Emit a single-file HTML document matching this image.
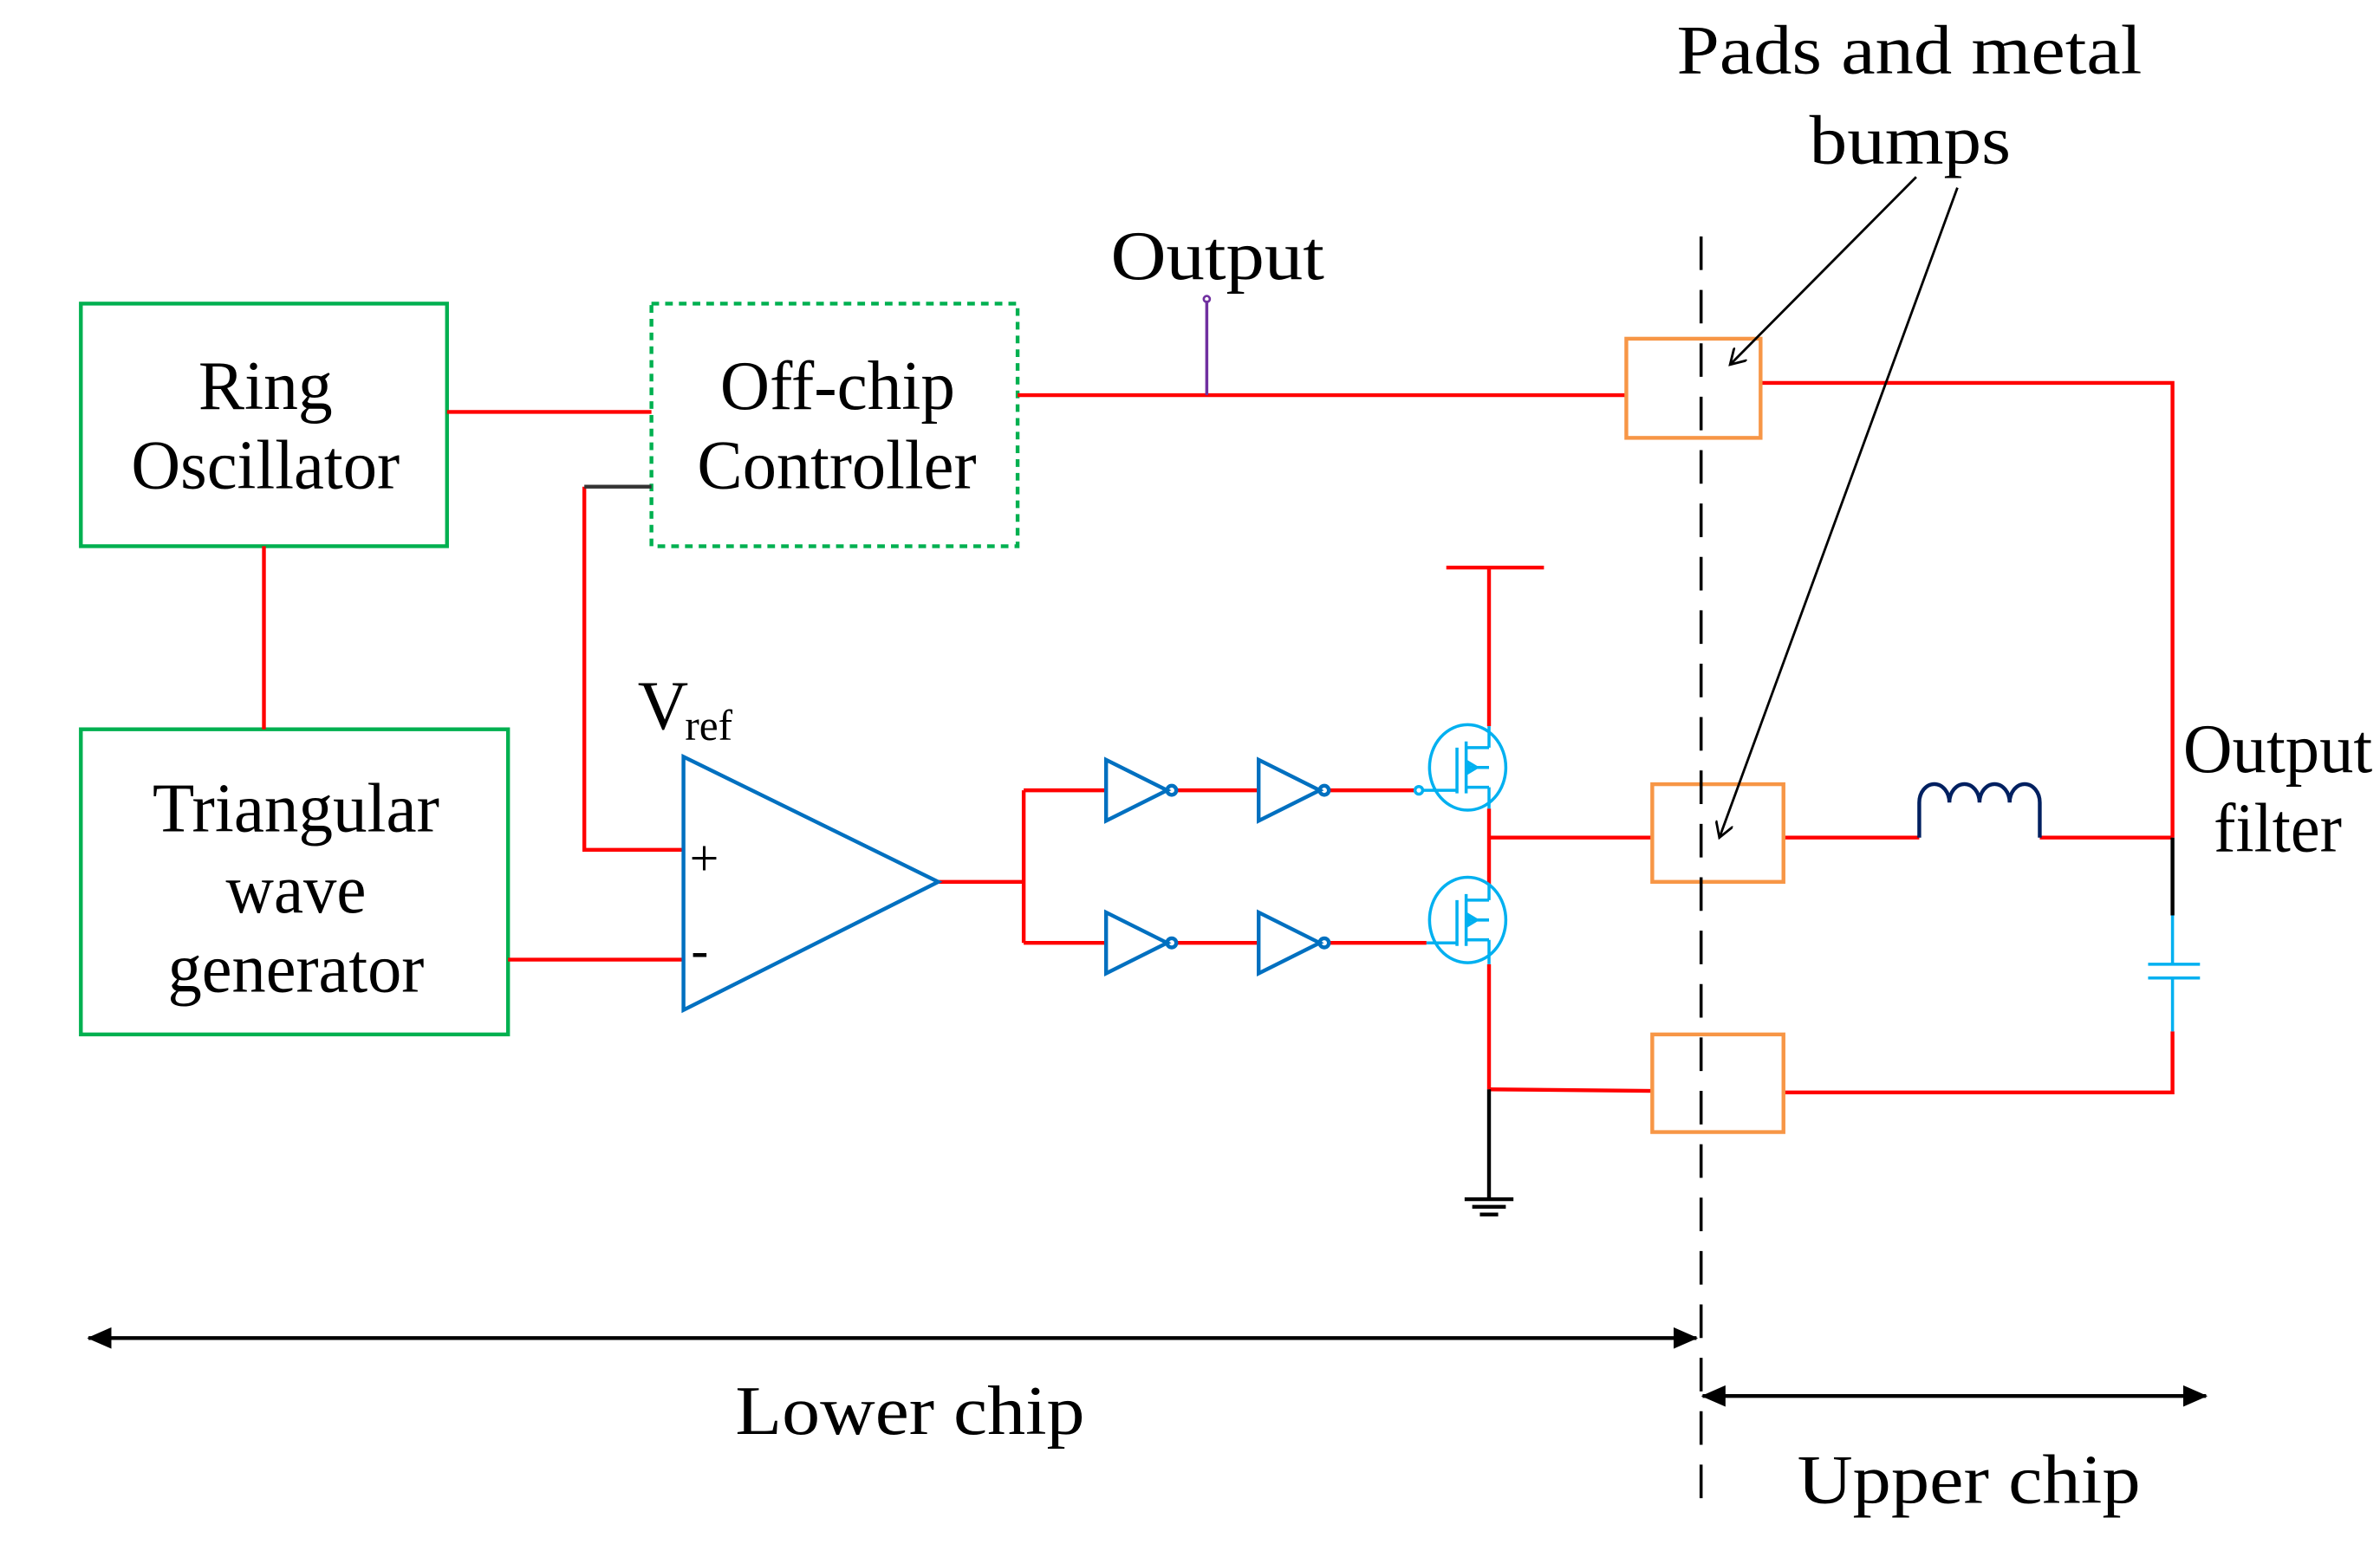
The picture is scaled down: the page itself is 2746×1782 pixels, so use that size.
<!DOCTYPE html>
<html><head><meta charset="utf-8"><style>html,body{margin:0;padding:0;background:#fff}svg{display:block}</style></head>
<body>
<svg width="2746" height="1782" viewBox="0 0 1560 1012" preserveAspectRatio="none" xmlns="http://www.w3.org/2000/svg" font-family="Liberation Serif, serif" font-size="46" fill="#000">
<defs>
<marker id="ah" markerWidth="12" markerHeight="12" refX="10" refY="6" orient="auto" markerUnits="userSpaceOnUse"><path d="M0,0 L10,6 L0,12" fill="none" stroke="#000" stroke-width="1.6"/></marker>
<marker id="ah2" markerWidth="16" markerHeight="14" refX="15" refY="7" orient="auto-start-reverse" markerUnits="userSpaceOnUse"><path d="M0,0 L16,7 L0,14 Z" fill="#000"/></marker>
</defs>
<g fill="none" stroke-width="2.5">
<rect x="53" y="199" width="240" height="159" stroke="#00b050"/>
<rect x="427" y="199" width="240" height="159" stroke="#00b050" stroke-dasharray="5,4"/>
<rect x="53" y="478" width="280" height="200" stroke="#00b050"/>
<g stroke="#ff0000">
<path d="M293 270H427"/><path d="M383 319V557H448"/><path d="M173 358V478"/><path d="M333 629H448"/>
<path d="M615 578H671M671 518V618M671 518H725M671 618H725"/>
<path d="M771 518H825M871 518H928M771 618H825M871 618H935"/>
<path d="M667 259H1066"/>
<path d="M976 372V476M976 530V580M976 632V714"/><path d="M948 372H1012"/>
<path d="M976 549H1083M976 714L1083 715"/>
<path d="M1154 251H1424V549"/><path d="M1169 549H1258M1337 549H1424"/>
<path d="M1424 676V716H1169"/>
</g>
<path d="M383 319H427" stroke="#333"/>
<path d="M976 714V786" stroke="#000"/>
<path d="M960 786H992M965 791H987M970 796H982" stroke="#000"/>
<path d="M448 496L448 662L615 578Z" stroke="#0070c0"/>
<g stroke="#0070c0">
<path d="M725 498V538L765 518Z"/><circle cx="768" cy="518" r="3"/>
<path d="M825 498V538L865 518Z"/><circle cx="868" cy="518" r="3"/>
<path d="M725 598V638L765 618Z"/><circle cx="768" cy="618" r="3"/>
<path d="M825 598V638L865 618Z"/><circle cx="868" cy="618" r="3"/>
</g>
<g stroke="#00b0f0" stroke-width="2">
<ellipse cx="962" cy="503" rx="25" ry="28"/><ellipse cx="962" cy="603" rx="25" ry="28"/>
<circle cx="930" cy="518" r="2.5"/>
<path d="M932 518H955M955 490V520M961 486V520M961 490H976M961 503H976M961 516H976M976 476V490M976 516V530M968 503l-5-3v6z"/>
<path d="M935 618H955M955 590V620M961 586V620M961 590H976M961 603H976M961 616H976M976 580V590M976 616V632M968 603l-5-3v6z"/>
<path d="M1424 600V632M1408 632H1442M1408 641H1442M1424 641V676"/>
</g>
<path d="M1424 549V600" stroke="#000"/>
<path d="M1258 549V526a9.8 12 0 0 1 19.75 0 9.8 12 0 0 1 19.75 0 9.8 12 0 0 1 19.75 0 9.8 12 0 0 1 19.75 0V549" stroke="#002060"/>
<path d="M791 197V259" stroke="#7030a0" stroke-width="2"/><circle cx="791" cy="196" r="2" stroke="#7030a0" stroke-width="1.5"/>
<g stroke="#f79646">
<rect x="1066" y="222" width="88" height="65"/><rect x="1083" y="514" width="86" height="64"/><rect x="1083" y="678" width="86" height="64"/>
</g>
<path d="M1115 155V990" stroke="#000" stroke-width="2" stroke-dasharray="22,13"/>
<path d="M1256 116L1134 239" stroke="#000" stroke-width="1.6" marker-end="url(#ah)"/>
<path d="M1283 123L1127 549" stroke="#000" stroke-width="1.6" marker-end="url(#ah)"/>
<path d="M58 877H1112" stroke="#000" stroke-width="2.5" marker-start="url(#ah2)" marker-end="url(#ah2)"/>
<path d="M1116 915H1446" stroke="#000" stroke-width="2.5" marker-start="url(#ah2)" marker-end="url(#ah2)"/>
</g>
<text x="130" y="268" textLength="88" lengthAdjust="spacingAndGlyphs">Ring</text>
<text x="86" y="320" textLength="176" lengthAdjust="spacingAndGlyphs">Oscillator</text>
<text x="472" y="268" textLength="154" lengthAdjust="spacingAndGlyphs">Off-chip</text>
<text x="457" y="320" textLength="183" lengthAdjust="spacingAndGlyphs">Controller</text>
<text x="100" y="545" textLength="188" lengthAdjust="spacingAndGlyphs">Triangular</text>
<text x="148" y="598" textLength="92" lengthAdjust="spacingAndGlyphs">wave</text>
<text x="110" y="650" textLength="168" lengthAdjust="spacingAndGlyphs">generator</text>
<text x="418" y="478">V</text><text x="449" y="485" font-size="28">ref</text>
<text x="452" y="574" font-size="34">+</text>
<text x="453" y="634" font-size="34">-</text>
<text x="728" y="183" textLength="140" lengthAdjust="spacingAndGlyphs">Output</text>
<text x="1099" y="48" textLength="305" lengthAdjust="spacingAndGlyphs">Pads and metal</text>
<text x="1186" y="107" textLength="132" lengthAdjust="spacingAndGlyphs">bumps</text>
<text x="1431" y="506" textLength="124" lengthAdjust="spacingAndGlyphs">Output</text>
<text x="1451" y="558" textLength="84" lengthAdjust="spacingAndGlyphs">filter</text>
<text x="482" y="940" textLength="229" lengthAdjust="spacingAndGlyphs">Lower chip</text>
<text x="1178" y="985" textLength="225" lengthAdjust="spacingAndGlyphs">Upper chip</text>
</svg>
</body></html>
